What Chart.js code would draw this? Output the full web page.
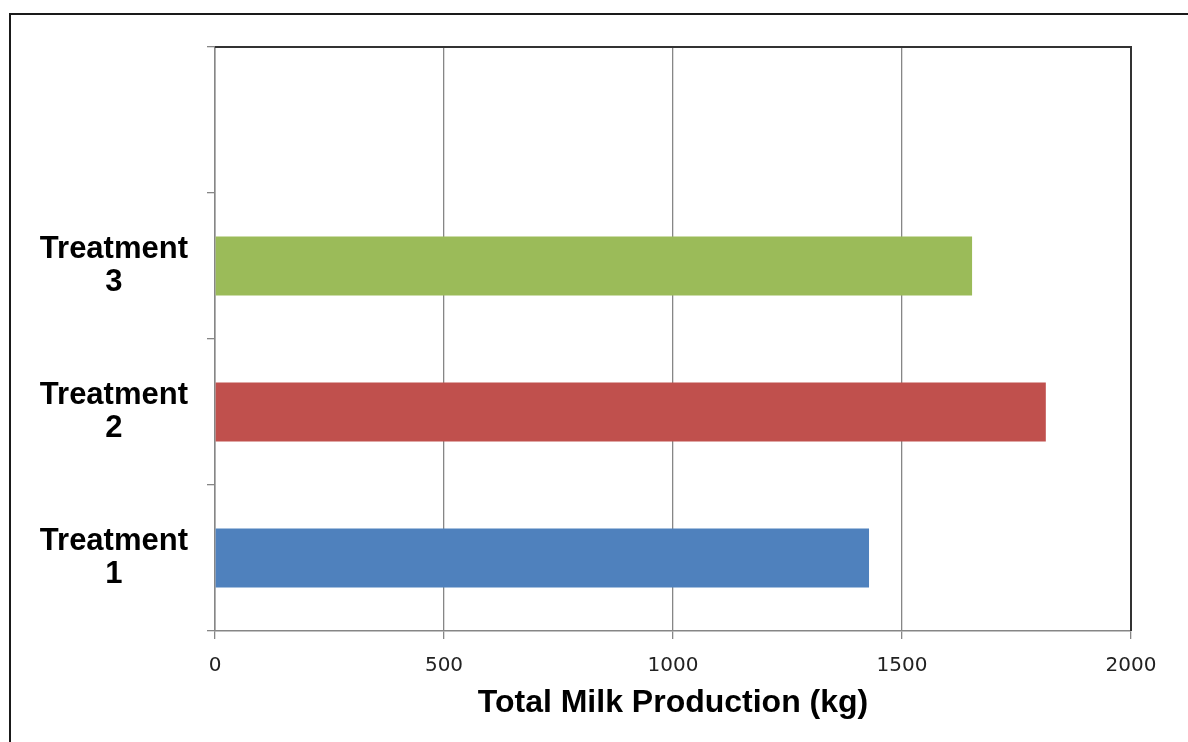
<!DOCTYPE html>
<html>
<head>
<meta charset="utf-8">
<script src="https://cdn.jsdelivr.net/npm/chart.js@4/dist/chart.umd.min.js"></script>
<style>
  html, body { margin: 0; padding: 0; background: #fff; overflow: hidden; }
  #wrap { position: relative; width: 1188px; height: 742px; }
</style>
</head>
<body>
<div id="wrap"><canvas id="c" width="1188" height="742"></canvas></div>
<script>
// Data (bottom to top)
const categories = [['Treatment', '1'], ['Treatment', '2'], ['Treatment', '3'], ''];
const milkProduction = [1428, 1814, 1653, null];
const barColors = ['#4F81BD', '#C0504D', '#9BBB59', '#FFFFFF'];
const xTicks = [0, 500, 1000, 1500, 2000];
const xTitle = 'Total Milk Production (kg)';

const framePlugin = {
  id: 'frame',
  beforeDraw(chart) {
    const ctx = chart.ctx;
    ctx.save();
    ctx.strokeStyle = '#1a1a1a';
    ctx.lineWidth = 2;
    ctx.strokeRect(10, 14, 1400, 900);
    ctx.restore();
  },
  afterDraw(chart) {
    const {ctx, chartArea: a} = chart;
    ctx.save();
    ctx.strokeStyle = '#333333';
    ctx.lineWidth = 2;
    ctx.beginPath();
    ctx.moveTo(a.left, a.top);
    ctx.lineTo(a.right, a.top);
    ctx.lineTo(a.right, a.bottom);
    ctx.stroke();
    ctx.restore();
  }
};

new Chart(document.getElementById('c'), {
  type: 'bar',
  data: {
    labels: categories,
    datasets: [{
      data: milkProduction,
      backgroundColor: barColors,
      borderWidth: 0,
      categoryPercentage: 1.0,
      barPercentage: 0.405
    }]
  },
  options: {
    indexAxis: 'y',
    responsive: false,
    animation: false,
    devicePixelRatio: 1,
    layout: { padding: { left: 0, right: 57, top: 47, bottom: 0 } },
    plugins: {
      legend: { display: false },
      tooltip: { enabled: false }
    },
    scales: {
      x: {
        min: 0,
        max: 2000,
        afterBuildTicks(scale) { scale.ticks = xTicks.map(v => ({ value: v })); },
        afterFit(scale) { scale.height = 742 - 631; },
        ticks: {
          color: '#222222',
          font: { family: 'DejaVu Sans', size: 20 },
          padding: 15,
          callback: (v) => String(v)
        },
        grid: {
          color: '#868686',
          lineWidth: 1.3,
          tickLength: 8
        },
        border: { color: '#868686', width: 1.5 },
        title: {
          display: true,
          text: xTitle,
          color: '#000000',
          font: { family: 'Liberation Sans', size: 32, weight: 'bold' },
          padding: { top: 0, bottom: 20 }
        }
      },
      y: {
        reverse: true,
        afterFit(scale) { scale.width = 215; },
        ticks: {
          color: '#000000',
          crossAlign: 'center',
          font: { family: 'Liberation Sans', size: 31, weight: 'bold', lineHeight: 1.05 },
          padding: 19
        },
        grid: {
          drawOnChartArea: false,
          drawTicks: true,
          tickLength: 8,
          color: '#868686',
          lineWidth: 1.3
        },
        border: { color: '#868686', width: 1.5 }
      }
    }
  },
  plugins: [framePlugin]
});
</script>
</body>
</html>
